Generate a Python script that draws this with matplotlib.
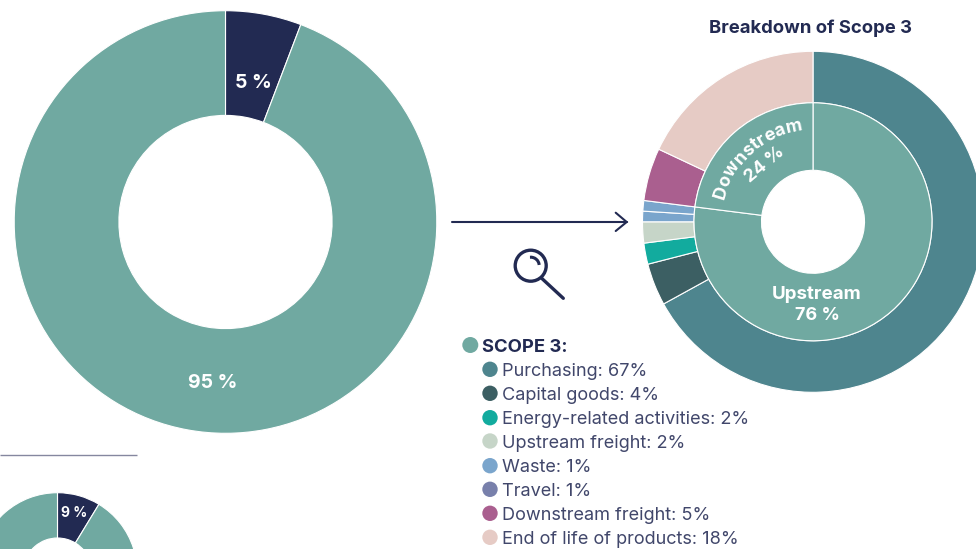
import matplotlib
matplotlib.use("Agg")
import matplotlib.pyplot as plt
import numpy as np
from matplotlib.patches import Arc, Circle
from matplotlib.text import Text

plt.rcParams['font.family'] = ['Inter', 'DejaVu Sans']

TEAL = '#70A9A1'
NAVY = '#222A52'
TEXT = '#41476B'

main_values = [5.8, 94.2]
main_labels = ['5 %', '95 %']
small_values = [8.7, 91.3]
small_label = '9 %'

scope3_names = ['Purchasing', 'Capital goods', 'Energy-related activities', 'Upstream freight',
                'Waste', 'Travel', 'Downstream freight', 'End of life of products']
scope3_values = [67, 4, 2, 2, 1, 1, 5, 18]
scope3_colors = ['#4E858E', '#3C5F63', '#12AB9E', '#C6D5C8', '#7AA5CC', '#7AA5CC', '#AA5F8F', '#E6CBC5']
legend_colors = ['#4E858E', '#3C5F63', '#12AB9E', '#C6D5C8', '#7AA5CC', '#7880AB', '#AA5F8F', '#E6CBC5']
# Inner ring as drawn: the slice boundary lines up with the outer ring at 77 / 23
stream_values = [77, 23]

fig = plt.figure(figsize=(9.76, 5.49), dpi=100)
ax = fig.add_axes([0, 0, 1, 1])


def Y(y):
    return 549 - y


def donut(values, colors, cx, cy, outer, inner, lw=0.8):
    ax.pie(values, colors=colors, startangle=90, counterclock=False, center=(cx, Y(cy)),
           radius=outer, frame=True,
           wedgeprops=dict(width=outer - inner, edgecolor='white', linewidth=lw))


class ArcText(Text):
    """A single text artist whose glyphs follow a circular arc."""

    def __init__(self, string, cx, cy, radius, mid_deg, **kw):
        mid = np.radians(mid_deg)
        super().__init__(cx - radius * np.sin(mid), cy + radius * np.cos(mid), string,
                         ha='center', va='center', rotation=mid_deg, **kw)
        self.arc = (cx, cy, radius, mid)
        self.kw = kw

    def _width(self, string, renderer):
        if not string:
            return 0.0
        t = Text(0, 0, string, **self.kw)
        t.set_figure(self.get_figure())
        return t.get_window_extent(renderer).width

    def draw(self, renderer):
        cx, cy, r, mid = self.arc
        string = self.get_text()
        total = self._width(string, renderer)
        for i, ch in enumerate(string):
            s = (self._width(string[:i], renderer) + self._width(string[:i + 1], renderer)) / 2
            th = mid + (total / 2 - s) / r
            t = Text(cx - r * np.sin(th), cy + r * np.cos(th), ch, ha='center', va='baseline',
                     rotation=np.degrees(th), rotation_mode='anchor', **self.kw)
            t.set_figure(self.get_figure())
            t.set_transform(self.axes.transData)
            t.draw(renderer)


# Doughnuts
donut(main_values, [NAVY, TEAL], 225.5, 222, 211.3, 106.6)
donut(small_values, [NAVY, TEAL], 57.5, 572.4, 79.7, 34.4)
donut(scope3_values, scope3_colors, 813, 221.8, 170.5, 119)
donut(stream_values, [TEAL, TEAL], 813, 221.8, 119, 51.5)

ax.set_xlim(0, 976)
ax.set_ylim(0, 549)
ax.set_aspect('auto')
ax.axis('off')

# Labels on the doughnuts
ax.text(253, Y(83), main_labels[0], color='white', fontsize=14, fontweight='bold', ha='center', va='center')
ax.text(213, Y(382.5), main_labels[1], color='white', fontsize=14, fontweight='bold', ha='center', va='center')
ax.text(74, Y(513), small_label, color='white', fontsize=10, fontweight='bold', ha='center', va='center')
ax.text(817, Y(294.5), 'Upstream', color='white', fontsize=13.5, fontweight='bold', ha='center', va='center')
ax.text(817, Y(316), '76 %', color='white', fontsize=13, fontweight='bold', ha='center', va='center')
ax.text(765, Y(165), '24 %', color='white', fontsize=13, fontweight='bold', ha='center', va='center',
        rotation=40, rotation_mode='anchor')
ax.add_artist(ArcText('Downstream', 813, Y(221.8), 92, 41.5, color='white', fontsize=13, fontweight='bold'))

# Title
ax.text(810.5, Y(28.5), 'Breakdown of Scope 3', color=NAVY, fontsize=13.3, fontweight='bold',
        ha='center', va='center')

# Rule above the small doughnut
ax.plot([0, 137], [Y(455), Y(455)], color='#85879F', lw=1.0, solid_capstyle='butt')

# Arrow
ax.plot([451.5, 626.5], [Y(222), Y(222)], color=NAVY, lw=1.5, solid_capstyle='round')
ax.plot([615.7, 626.7, 615.7], [Y(212.7), Y(222), Y(231)], color=NAVY, lw=1.5,
        solid_capstyle='round', solid_joinstyle='miter')

# Magnifier
ax.add_patch(Circle((530.7, Y(265.7)), 15.5, fill=False, edgecolor=NAVY, lw=2.4))
ax.add_patch(Arc((530.7, Y(265.7)), 17, 17, theta1=5, theta2=95, edgecolor=NAVY, lw=2.2))
ax.plot([541.7, 563.3], [Y(278.3), Y(298.3)], color=NAVY, lw=2.4, solid_capstyle='round')

# Legend
ax.add_patch(Circle((470.3, Y(345)), 8, facecolor=TEAL, edgecolor='none'))
ax.text(482, Y(347), 'SCOPE 3:', color=NAVY, fontsize=13.3, fontweight='bold', ha='left', va='center')
ys = [369.3, 393.3, 417.7, 441, 465.7, 489.3, 513.3, 537.3]
for name, value, color, y in zip(scope3_names, scope3_values, legend_colors, ys):
    ax.add_patch(Circle((490, Y(y)), 7.7, facecolor=color, edgecolor='none'))
    ax.text(502.5, Y(y + 2), f'{name}: {value}%', color=TEXT, fontsize=13.05, ha='left', va='center')

fig.savefig('out.png', dpi=100, facecolor='white')
